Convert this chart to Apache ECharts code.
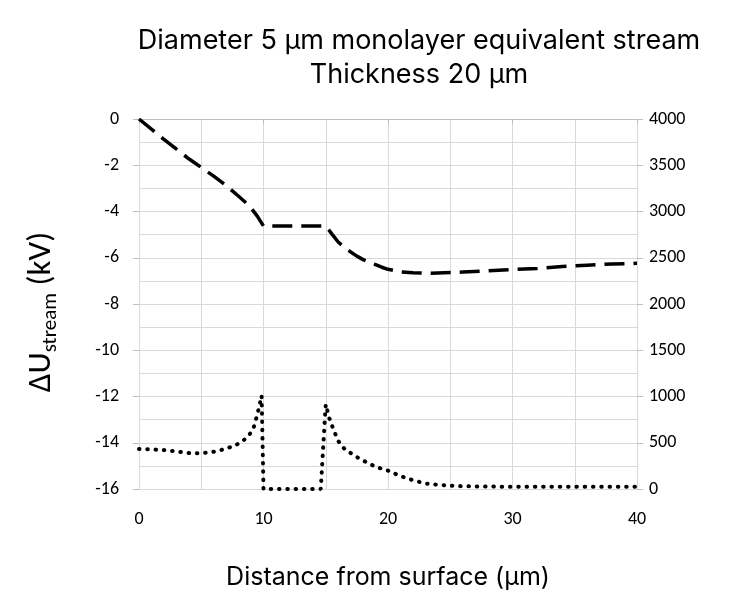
<!DOCTYPE html>
<html>
<head>
<meta charset="utf-8">
<script src="https://cdn.jsdelivr.net/npm/echarts@6/dist/echarts.min.js"></script>
<style>html,body{margin:0;padding:0;background:#fff;}#c{width:743px;height:591px;}</style>
</head>
<body>
<div id="c"></div>
<script>
// ---- data ----
var titleLines = ['Diameter 5 μm monolayer equivalent stream', 'Thickness 20 μm'];
// dashed series: ΔU_stream (kV), left axis
var xDash = [0, 2, 4, 6, 7, 8, 8.5, 9, 9.5, 10, 12.5, 15, 15.25, 15.5, 16, 16.5, 17, 17.5, 18, 18.5, 19, 19.5, 20, 21, 22, 23, 24, 26, 28, 30, 32, 34, 36, 38, 40];
var yDash = [0, -0.88, -1.72, -2.47, -2.88, -3.34, -3.58, -3.85, -4.2, -4.63, -4.63, -4.63, -4.8, -4.98, -5.32, -5.55, -5.75, -5.93, -6.08, -6.2, -6.3, -6.41, -6.5, -6.61, -6.65, -6.67, -6.66, -6.62, -6.56, -6.51, -6.46, -6.38, -6.32, -6.27, -6.24];
// dotted series: right axis
var xDot = [0, 1, 2, 3, 4, 4.6, 5.2, 5.9, 6.5, 7.15, 7.8, 8.4, 8.85, 9.2, 9.55, 9.7, 9.85, 10, 10, 12, 14.6, 14.75, 14.9, 15, 15.3, 15.6, 16, 16.5, 17, 17.5, 18, 19, 20, 21, 22, 23, 24, 25, 26, 28, 30, 35, 40];
var yDot = [432, 428, 421, 405, 388, 386, 390, 400, 418, 443, 476, 526, 584, 659, 830, 920, 1010, 990, 0, 0, 0, 350, 700, 915, 760, 650, 520, 435, 388, 345, 308, 240, 198, 140, 95, 60, 45, 36, 30, 26, 25, 25, 25];

function pairs(xs, ys) { return xs.map(function (x, i) { return [x, ys[i]]; }); }

var chart = echarts.init(document.getElementById('c'), null, { renderer: 'canvas' });
var tickFont = 'Carlito, "Open Sans", sans-serif';
var titleFont = 'Inter, Lato, sans-serif';
chart.setOption({
  animation: false,
  backgroundColor: '#fff',
  graphic: [
    { type: 'text', x: 419, y: 41, style: { text: titleLines[0], font: '27px ' + titleFont, fill: '#000', textAlign: 'center', textVerticalAlign: 'middle' } },
    { type: 'text', x: 419, y: 75, style: { text: titleLines[1], font: '27px ' + titleFont, fill: '#000', textAlign: 'center', textVerticalAlign: 'middle' } }
  ],
  grid: { left: 139, right: 106, top: 119, bottom: 102, containLabel: false, outerBoundsMode: 'none' },
  xAxis: {
    type: 'value', min: 0, max: 40, interval: 10,
    name: 'Distance from surface (µm)', nameLocation: 'middle', nameGap: 76,
    nameTextStyle: { fontSize: 25, fontFamily: titleFont, color: '#000' },
    axisLine: { show: true, lineStyle: { color: '#bfbfbf', width: 1 } },
    axisTick: { show: true, length: 5, lineStyle: { color: '#bfbfbf' } },
    axisLabel: { fontSize: 18, fontFamily: tickFont, color: '#000', margin: 21 },
    splitLine: { show: true, lineStyle: { color: '#d9d9d9', width: 1 } },
    minorTick: { show: false, splitNumber: 2 },
    minorSplitLine: { show: true, lineStyle: { color: '#d9d9d9', width: 1 } }
  },
  yAxis: [
    {
      type: 'value', min: -16, max: 0, interval: 2, position: 'left',
      name: '{a|ΔU}{s|stream}{a| (kV)}', nameLocation: 'middle', nameGap: 78, nameRotate: 90,
      nameTextStyle: {
        color: '#000', padding: [0, 16, 0, 0],
        rich: {
          a: { fontSize: 33, fontFamily: tickFont, color: '#000' },
          s: { fontSize: 21, fontFamily: tickFont, color: '#000', padding: [17, 0, 0, 0] }
        }
      },
      axisLine: { show: true, lineStyle: { color: '#d9d9d9' } },
      axisTick: { show: true, length: 6, lineStyle: { color: '#bfbfbf' } },
      axisLabel: { fontSize: 18, fontFamily: tickFont, color: '#000', margin: 20 },
      splitLine: { show: true, lineStyle: { color: '#d9d9d9' } },
      minorTick: { show: false, splitNumber: 2 },
      minorSplitLine: { show: true, lineStyle: { color: '#d9d9d9' } }
    },
    {
      type: 'value', min: 0, max: 4000, interval: 500, position: 'right',
      axisLine: { show: true, lineStyle: { color: '#d9d9d9' } },
      axisTick: { show: true, length: 6, lineStyle: { color: '#bfbfbf' } },
      axisLabel: { fontSize: 18, fontFamily: tickFont, color: '#000', margin: 12, formatter: function (v) { return String(v); } },
      splitLine: { show: false }
    }
  ],
  series: [
    {
      type: 'line', yAxisIndex: 0, data: pairs(xDash, yDash), showSymbol: false, smooth: false,
      lineStyle: { color: '#000', width: 3.5, type: [20, 9], cap: 'butt', join: 'round' }
    },
    {
      type: 'line', yAxisIndex: 1, data: pairs(xDot, yDot), showSymbol: false, smooth: false,
      lineStyle: { color: '#000', width: 4, type: [0.5, 7.8], cap: 'round' }
    }
  ]
});
</script>
</body>
</html>
